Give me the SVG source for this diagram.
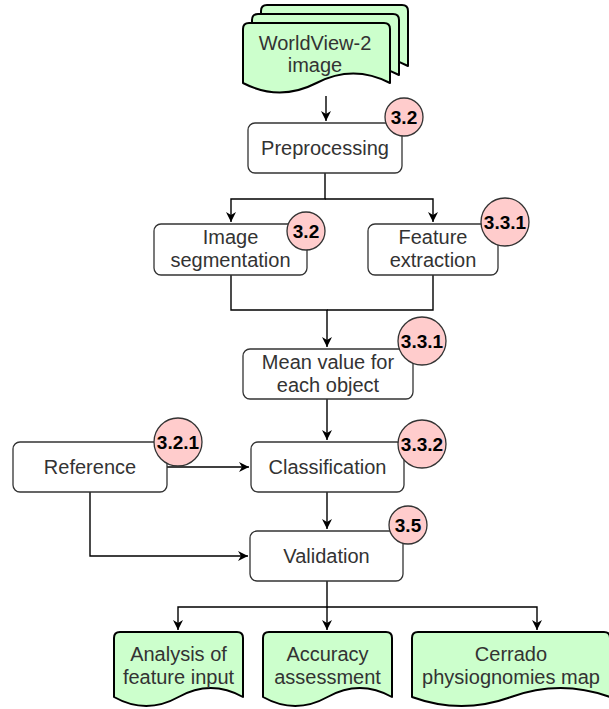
<svg xmlns="http://www.w3.org/2000/svg" width="609" height="709" viewBox="0 0 609 709">
  <defs>
    <marker id="arrow" markerUnits="userSpaceOnUse" markerWidth="12" markerHeight="10" refX="10" refY="5" orient="auto">
      <path d="M0,0 L10,5 L0,10 L3,5 Z" fill="#000"/>
    </marker>
    <style>
      .box { fill: #ffffff; stroke: #333333; stroke-width: 1.3; }
      .doc { fill: #ccffcc; stroke: #000000; stroke-width: 2; stroke-linejoin: round; }
      .badge circle { fill: #ffcccc; stroke: #333333; stroke-width: 1.3; }
      .badge text { font-family: "Liberation Sans", Arial, sans-serif; font-size: 19px; font-weight: bold; fill: #000000; text-anchor: middle; }
      .label { font-family: "Liberation Sans", Arial, sans-serif; font-size: 20px; fill: #333333; text-anchor: middle; }
      .edge { fill: none; stroke: #000000; stroke-width: 1.4; }
    </style>
  </defs>
  <rect width="609" height="709" fill="#ffffff"/>

  <!-- connectors -->
  <g id="connectors">
    <path class="edge" d="M326,96 V121" marker-end="url(#arrow)"/>
    <path class="edge" d="M325,173 V199 H231 V222" marker-end="url(#arrow)"/>
    <path class="edge" d="M325,199 H433 V222" marker-end="url(#arrow)"/>
    <path class="edge" d="M231,275 V310 H327 V347" marker-end="url(#arrow)"/>
    <path class="edge" d="M433,275 V310 H327"/>
    <path class="edge" d="M327,399 V440" marker-end="url(#arrow)"/>
    <path class="edge" d="M167,467 H249" marker-end="url(#arrow)"/>
    <path class="edge" d="M90,492 V556 H248" marker-end="url(#arrow)"/>
    <path class="edge" d="M327,492 V529" marker-end="url(#arrow)"/>
    <path class="edge" d="M327,581 V607 H178 V630" marker-end="url(#arrow)"/>
    <path class="edge" d="M327,607 V630" marker-end="url(#arrow)"/>
    <path class="edge" d="M327,607 H537 V630" marker-end="url(#arrow)"/>
  </g>

  <!-- stacked input documents -->
  <g id="worldview">
    <path class="doc" d="M261,11 Q261,5 267,5 L402,5 Q408,5 408,11 L408,66 Q371.25,47 334.5,66 Q297.75,85 261,66 Z"/>
    <path class="doc" d="M252,20 Q252,14 258,14 L393,14 Q399,14 399,20 L399,75 Q362.25,56 325.5,75 Q288.75,94 252,75 Z"/>
    <path class="doc" d="M243,29 Q243,23 249,23 L384,23 Q390,23 390,29 L390,83 Q353.25,64 316.5,83 Q279.75,102 243,83 Z"/>
    <text class="label" x="315" y="50">WorldView-2</text>
    <text class="label" x="315" y="72">image</text>
  </g>

  <g id="preprocessing">
    <rect class="box" x="248" y="123" width="154" height="50" rx="7"/>
    <text class="label" x="325" y="155">Preprocessing</text>
  </g>

  <g id="segmentation">
    <rect class="box" x="154" y="224" width="153" height="51" rx="7"/>
    <text class="label" x="230.5" y="244">Image</text>
    <text class="label" x="230.5" y="267">segmentation</text>
  </g>

  <g id="features">
    <rect class="box" x="368" y="224" width="130" height="51" rx="7"/>
    <text class="label" x="433" y="244">Feature</text>
    <text class="label" x="433" y="267">extraction</text>
  </g>

  <g id="mean-value">
    <rect class="box" x="243" y="349" width="170" height="50" rx="7"/>
    <text class="label" x="328" y="369">Mean value for</text>
    <text class="label" x="328" y="392">each object</text>
  </g>

  <g id="reference">
    <rect class="box" x="13" y="442" width="154" height="50" rx="7"/>
    <text class="label" x="90" y="474">Reference</text>
  </g>

  <g id="classification">
    <rect class="box" x="251" y="442" width="153" height="50" rx="7"/>
    <text class="label" x="327.5" y="474">Classification</text>
  </g>

  <g id="validation">
    <rect class="box" x="250" y="531" width="153" height="50" rx="7"/>
    <text class="label" x="326.5" y="563">Validation</text>
  </g>

  <!-- output documents -->
  <g id="feature-analysis">
    <path class="doc" d="M114,638 Q114,632 120,632 L237,632 Q243,632 243,638 L243,697 Q210.75,679 178.5,697 Q146.25,715 114,697 Z"/>
    <text class="label" x="178.5" y="661">Analysis of</text>
    <text class="label" x="178.5" y="684">feature input</text>
  </g>

  <g id="accuracy">
    <path class="doc" d="M263,638 Q263,632 269,632 L386,632 Q392,632 392,638 L392,697 Q359.75,679 327.5,697 Q295.25,715 263,697 Z"/>
    <text class="label" x="327.5" y="661">Accuracy</text>
    <text class="label" x="327.5" y="684">assessment</text>
  </g>

  <g id="physiognomies-map">
    <path class="doc" d="M412,638 Q412,632 418,632 L604,632 Q610,632 610,638 L610,697 Q560.5,679 511,697 Q461.5,715 412,697 Z"/>
    <text class="label" x="511" y="661">Cerrado</text>
    <text class="label" x="511" y="684">physiognomies map</text>
  </g>

  <!-- section badges -->
  <g id="badge-preprocessing" class="badge">
    <circle cx="404" cy="117" r="19"/>
    <text x="404" y="124">3.2</text>
  </g>
  <g id="badge-segmentation" class="badge">
    <circle cx="306" cy="231" r="19"/>
    <text x="306" y="238">3.2</text>
  </g>
  <g id="badge-features" class="badge">
    <circle cx="505" cy="222" r="24"/>
    <text x="505" y="229">3.3.1</text>
  </g>
  <g id="badge-mean" class="badge">
    <circle cx="422" cy="341" r="24"/>
    <text x="422" y="348">3.3.1</text>
  </g>
  <g id="badge-reference" class="badge">
    <circle cx="178" cy="442" r="24"/>
    <text x="178" y="449">3.2.1</text>
  </g>
  <g id="badge-classification" class="badge">
    <circle cx="422" cy="444" r="24"/>
    <text x="422" y="451">3.3.2</text>
  </g>
  <g id="badge-validation" class="badge">
    <circle cx="408" cy="525" r="19"/>
    <text x="408" y="532">3.5</text>
  </g>
</svg>
